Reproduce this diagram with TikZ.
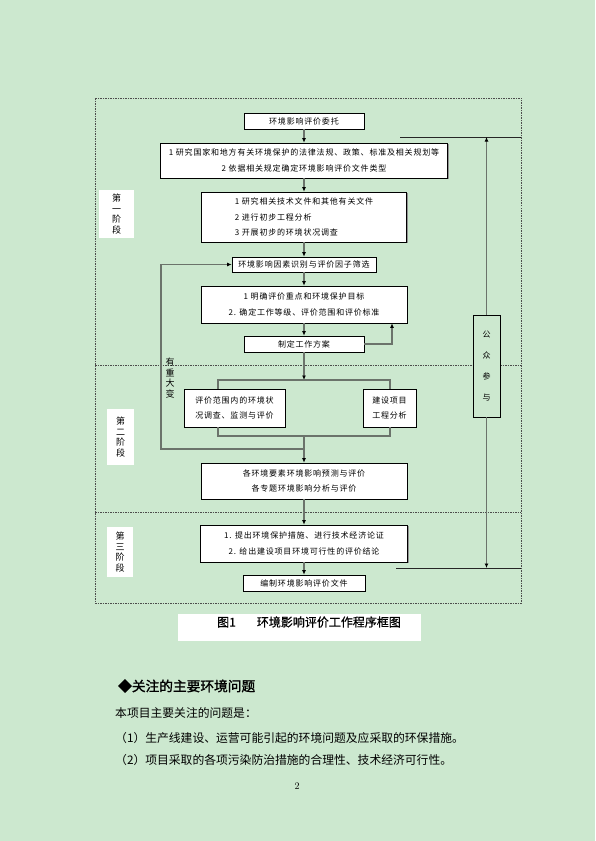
\documentclass[tikz,border=0pt]{standalone}
\usepackage{fontspec}
\newfontfamily\cjk[LetterSpace=10]{Noto Sans CJK SC}
\newfontfamily\cjkplain{Noto Sans CJK SC}
\newfontfamily\cjkcap[FakeBold=0.6]{Noto Sans CJK SC}
\newfontfamily\cjkbold[FakeBold=1.5]{Noto Sans CJK SC}
\usetikzlibrary{arrows.meta,shadows}
\definecolor{bggreen}{RGB}{204,232,207}
\definecolor{linkgray}{HTML}{6B736B}

\begin{document}
\begin{tikzpicture}[x=1pt, y=-1pt,
    stepbox/.style={draw=black, fill=white, line width=0.6pt, inner sep=0pt, align=center,
      font=\cjk\fontsize{8}{15.5}\selectfont,
      drop shadow={shadow xshift=1.2pt, shadow yshift=-1.2pt, fill=gray!85, opacity=1}},
    stagebox/.style={fill=white, inner sep=0pt, align=center, font=\cjkplain\fontsize{9}{10.6}\selectfont},
    bodytext/.style={anchor=west, inner sep=0pt, font=\cjkplain\fontsize{11.8}{14}\selectfont},
    link/.style={draw=linkgray, line width=1.1pt},
    arr/.style={link, -{Latex[length=4.5pt, width=4pt, black]}},
    bar/.style={draw=black!85, line width=0.7pt},
    frame/.style={draw=black!70, line width=0.5pt, dash pattern=on 1.5pt off 1pt}]

  % Page
  \fill[bggreen] (0,0) rectangle (595,841);
  \useasboundingbox (0,0) rectangle (595,841);

  % Dashed frame and stage borders
  \draw[frame] (95,98) rectangle (521,603);
  \draw[frame] (95,365) -- (521,365);
  \draw[frame] (95,512) -- (521,512);

  % Stage labels
  \node[stagebox, minimum width=35, minimum height=48] (s1) at (116.5,214) {第\\一\\阶\\段};
  \node[stagebox, minimum width=27, minimum height=56] (s2) at (120.5,437) {第\\二\\阶\\段};
  \node[stagebox, minimum width=26, minimum height=50] (s3) at (120,552) {第\\三\\阶\\段};

  % Steps
  \node[stepbox, minimum width=120, minimum height=16] (n1) at (304,121) {环境影响评价委托};
  \node[stepbox, minimum width=287, minimum height=35] (n2) at (304,160.5)
    {1 研究国家和地方有关环境保护的法律法规、政策、标准及相关规划等\\2 依据相关规定确定环境影响评价文件类型};
  \node[stepbox, minimum width=205, minimum height=50, align=left] (n3) at (304,217)
    {1 研究相关技术文件和其他有关文件\\2 进行初步工程分析\\3 开展初步的环境状况调查};
  \node[stepbox, minimum width=144, minimum height=15] (n4) at (304,264.5) {环境影响因素识别与评价因子筛选};
  \node[stepbox, minimum width=206, minimum height=37] (n5) at (304,304.5)
    {1 明确评价重点和环境保护目标\\2. 确定工作等级、评价范围和评价标准};
  \node[stepbox, minimum width=120, minimum height=16] (n6) at (304,344) {制定工作方案};
  \node[stepbox, minimum width=101, minimum height=38] (n7) at (234.5,408)
    {评价范围内的环境状\\况调查、监测与评价};
  \node[stepbox, minimum width=53, minimum height=38] (n8) at (389.5,408) {建设项目\\工程分析};
  \node[stepbox, minimum width=206, minimum height=36] (n9) at (304,481)
    {各环境要素环境影响预测与评价\\各专题环境影响分析与评价};
  \node[stepbox, minimum width=207, minimum height=37] (n10) at (304,543.5)
    {1. 提出环境保护措施、进行技术经济论证\\2. 给出建设项目环境可行性的评价结论};
  \node[stepbox, minimum width=122, minimum height=16] (n11) at (304,583) {编制环境影响评价文件};

  % Public participation
  \node[draw=black, fill=bggreen, line width=0.6pt, minimum width=27, minimum height=102,
    inner sep=0pt, align=center, font=\cjkplain\fontsize{8}{21}\selectfont,
    drop shadow={shadow xshift=1.2pt, shadow yshift=-1.2pt, fill=gray!85, opacity=1}]
    (pub) at (486.5,366) {公\\众\\参\\与};

  % Main flow
  \draw[arr] (n1) -- (n2);
  \draw[arr] (n2) -- (n3);
  \draw[arr] (n3) -- (n4);
  \draw[arr] (n4) -- (n5);
  \draw[arr] (n5) -- (n6);

  % Back to n5
  \coordinate (back) at (392,344);
  \draw[arr] (n6.east |- back) -- (back) -- (back |- n5.south);

  % Split into n7 and n8
  \coordinate (split) at (304,380);
  \coordinate (splitL) at (218,380);
  \coordinate (splitR) at (390,380);
  \draw[arr] (n6) -- (split);
  \draw[link] (splitL |- n7.north) -- (splitL) -- (splitR) -- (splitR |- n8.north);

  % Join
  \coordinate (joinL) at (218,436);
  \coordinate (joinR) at (390,436);
  \coordinate (join) at (304,436);
  \draw[link] (joinL |- n7.south) -- (joinL) -- (joinR) -- (joinR |- n8.south);
  \draw[arr] (join) -- (n9);

  % Major change loop
  \coordinate (loopB) at (304,449);
  \coordinate (loopL) at (161,449);
  \draw[arr] (loopB) -- (loopL) |- (n4.west);
  \node[inner sep=0pt, align=center, font=\cjkplain\fontsize{9}{10.4}\selectfont] (bigchange)
    at (170,378) {有\\重\\大\\变};

  \draw[arr] (n9) -- (n10);
  \draw[arr] (n10) -- (n11);

  % Public lines
  \coordinate (topL) at (400,137);
  \coordinate (topR) at (521,137);
  \coordinate (botL) at (396,568);
  \coordinate (botR) at (521,568);
  \draw[bar] (topL) -- (topR);
  \draw[bar] (botL) -- (botR);
  \draw[arr] (pub.north) -- (pub.north |- topL);
  \draw[arr] (pub.south) -- (pub.south |- botL);

  % Caption
  \node[fill=white, minimum width=243, minimum height=27, inner sep=0pt] (capbox) at (299.5,627.5) {};
  \node[anchor=west, inner sep=0pt, font=\cjkcap\fontsize{12}{14}\selectfont] (caption)
    at (217,622) {图1\hspace{21pt}环境影响评价工作程序框图};

  % Text below
  \node[anchor=west, inner sep=0pt, font=\cjkbold\fontsize{13.7}{16}\selectfont] (heading)
    at (118,686) {◆关注的主要环境问题};
  \node[bodytext] (intro) at (115,713) {本项目主要关注的问题是：};
  \node[bodytext] (item1) at (115,738) {（1）生产线建设、运营可能引起的环境问题及应采取的环保措施。};
  \node[bodytext] (item2) at (115,760) {（2）项目采取的各项污染防治措施的合理性、技术经济可行性。};
  \node[font=\fontsize{10}{12}\selectfont] (pageno) at (297,786) {2};
\end{tikzpicture}
\end{document}
